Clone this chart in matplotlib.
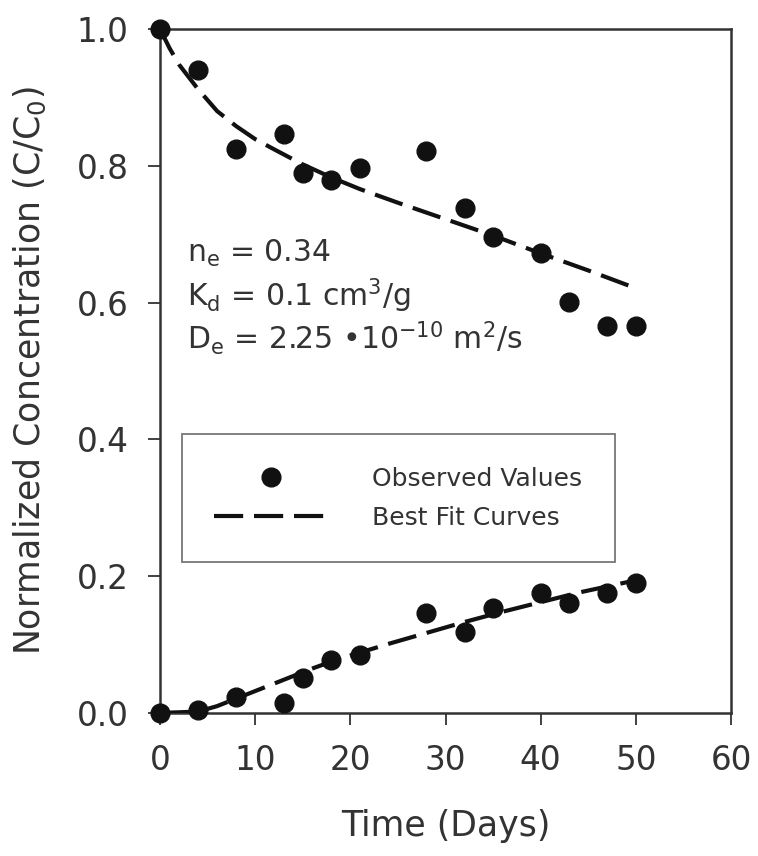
import matplotlib
matplotlib.use("Agg")
import matplotlib.pyplot as plt

# ---- data ----
days_obs = [0, 4, 8, 13, 15, 18, 21, 28, 32, 35, 40, 43, 47, 50]
upper_obs = [1.0, 0.94, 0.825, 0.846, 0.789, 0.779, 0.797, 0.822, 0.738, 0.696, 0.672, 0.601, 0.566, 0.566]
lower_obs = [0.0, 0.004, 0.023, 0.015, 0.051, 0.077, 0.085, 0.146, 0.118, 0.153, 0.175, 0.161, 0.175, 0.190]

days_fit_upper = [0, 1, 2, 4, 6, 8, 10, 12, 15, 18, 21, 25, 30, 35, 40, 45, 50]
upper_fit = [1.0, 0.972, 0.948, 0.912, 0.880, 0.858, 0.839, 0.824, 0.802, 0.783, 0.766, 0.746, 0.722, 0.698, 0.672, 0.647, 0.621]
days_fit_lower = [0, 4, 6, 8, 10, 12, 14, 16, 18, 20, 24, 28, 32, 36, 40, 44, 48, 50]
lower_fit = [0.0, 0.002, 0.010, 0.021, 0.032, 0.043, 0.054, 0.065, 0.075, 0.084, 0.101, 0.117, 0.133, 0.148, 0.162, 0.176, 0.188, 0.194]

x_ticks = [0, 10, 20, 30, 40, 50, 60]
y_ticks = [0.0, 0.2, 0.4, 0.6, 0.8, 1.0]
param_lines = ["n$_\\mathregular{e}$ = 0.34",
               "K$_\\mathregular{d}$ = 0.1 cm$^\\mathregular{3}$/g",
               "D$_\\mathregular{e}$ = 2.25 \u202210$^\\mathregular{-10}$ m$^\\mathregular{2}$/s"]

plt.rcParams['font.family'] = ['DejaVu Sans']
TXT = '#333333'

fig = plt.figure(figsize=(7.58, 8.56), dpi=100)
ax = fig.add_axes([0.2111, 0.1671, 0.9644 - 0.2111, 0.9661 - 0.1671])

dash = (0, (7, 2.6))
ax.plot(days_fit_upper, upper_fit, color='#111111', lw=3, linestyle=dash, zorder=3,
        label='Best Fit Curves')
ax.plot(days_fit_lower, lower_fit, color='#111111', lw=3, linestyle=dash, zorder=3)
ax.plot(days_obs, upper_obs, 'o', color='#111111', ms=13.5, zorder=5, clip_on=False,
        label='Observed Values')
ax.plot(days_obs, lower_obs, 'o', color='#111111', ms=13.5, zorder=5, clip_on=False)

ax.set_xlim(0, 60)
ax.set_ylim(0, 1.0)
ax.set_xticks(x_ticks)
ax.set_yticks(y_ticks)
ax.set_xticklabels([str(v) for v in x_ticks])
ax.set_yticklabels([f"{v:.1f}" for v in y_ticks])

for s in ax.spines.values():
    s.set_linewidth(1.8)
    s.set_color('#333333')
ax.tick_params(axis='both', direction='out', length=8.5, width=1.3, color='#333333',
               labelsize=23.5, labelcolor=TXT)
ax.tick_params(axis='x', pad=14)
ax.tick_params(axis='y', pad=14)

ax.set_xlabel('Time (Days)', fontsize=25, color=TXT, labelpad=23)
ax.set_ylabel('Normalized Concentration (C/C$_\\mathregular{0}$)', fontsize=25, color=TXT,
              labelpad=21)

ys = [0.659, 0.594, 0.531]
for t, yy in zip(param_lines, ys):
    ax.text(0.047, yy, t, transform=ax.transAxes, fontsize=21.5, color=TXT,
            ha='left', va='baseline')

h, l = ax.get_legend_handles_labels()
order = [1, 0]
leg = ax.legend([h[i] for i in order], [l[i] for i in order],
                loc='upper left', bbox_to_anchor=(0.0385, 0.4078), fontsize=18,
                frameon=True, fancybox=False, edgecolor='#555555', handlelength=4.5,
                handletextpad=1.8, borderpad=1.3, labelspacing=0.6, borderaxespad=0,
                labelcolor=TXT)
leg.get_frame().set_linewidth(1.3)
leg.set_zorder(2)

fig.savefig('out.png', dpi=100, facecolor='white')
